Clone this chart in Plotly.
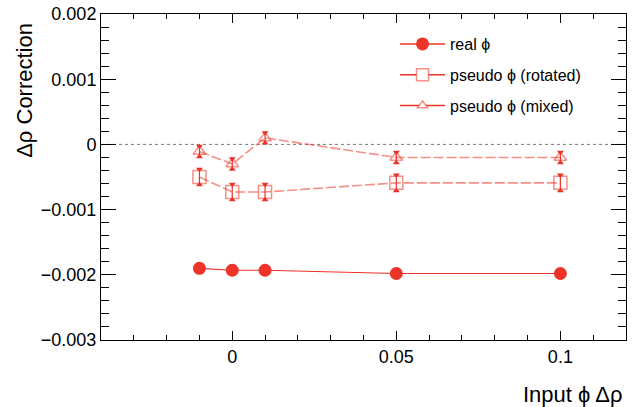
import plotly.graph_objects as go

# ---- data ----
x_input = [-0.01, 0.0, 0.01, 0.05, 0.1]
real_phi = [-0.00190, -0.00193, -0.00193, -0.00198, -0.00198]
rotated_phi = [-0.00050, -0.00073, -0.00073, -0.00059, -0.00059]
rotated_err = [0.00012, 0.00012, 0.00012, 0.00012, 0.00012]
mixed_phi = [-0.00011, -0.00030, 0.00010, -0.00020, -0.00020]
mixed_err = [0.00008, 0.00008, 0.00008, 0.00008, 0.00008]

series_names = ["real \u03d5", "pseudo \u03d5 (rotated)", "pseudo \u03d5 (mixed)"]
x_tickvals = [0, 0.05, 0.1]
x_ticktext = ["0", "0.05", "0.1"]
y_tickvals = [0.002, 0.001, 0, -0.001, -0.002, -0.003]
y_ticktext = ["0.002", "0.001", "0", "\u22120.001", "\u22120.002", "\u22120.003"]

RED = "rgb(236,52,40)"
RED_A = "rgba(236,52,40,0.55)"
CLEAR = "rgba(255,255,255,0)"
FONT = "Liberation Sans, Arial, Helvetica, sans-serif"

fig = go.Figure()

# real phi
fig.add_trace(go.Scatter(
    x=x_input, y=real_phi, mode="lines+markers", showlegend=False,
    line=dict(color=RED, width=1.2),
    marker=dict(symbol="circle", size=13, color=RED),
))

def add_pseudo(yvals, errs, symbol, size):
    fig.add_trace(go.Scatter(
        x=x_input, y=yvals, mode="lines+markers", showlegend=False,
        line=dict(color=RED_A, width=1.6, dash="10px,3px"),
        marker=dict(symbol=symbol, size=size, color=CLEAR,
                    line=dict(color=RED_A, width=1.5)),
        error_y=dict(type="data", array=errs, visible=True, color=RED,
                     thickness=1.2, width=2),
    ))
    # error bar end caps (small triangles)
    fig.add_trace(go.Scatter(
        x=x_input, y=[v + e for v, e in zip(yvals, errs)], mode="markers",
        showlegend=False, hoverinfo="skip",
        marker=dict(symbol="triangle-down", size=6, color=RED),
    ))
    fig.add_trace(go.Scatter(
        x=x_input, y=[v - e for v, e in zip(yvals, errs)], mode="markers",
        showlegend=False, hoverinfo="skip",
        marker=dict(symbol="triangle-up", size=6, color=RED),
    ))

add_pseudo(rotated_phi, rotated_err, "square", 13)
add_pseudo(mixed_phi, mixed_err, "triangle-up", 11)

# legend entries (solid lines as in reference)
fig.add_trace(go.Scatter(
    x=[None], y=[None], mode="lines+markers", name=series_names[0],
    legendgroup="a", line=dict(color=RED, width=1.5),
    marker=dict(symbol="circle", size=13, color=RED),
))
fig.add_trace(go.Scatter(
    x=[None], y=[None], mode="lines+markers", name=series_names[1],
    legendgroup="b", line=dict(color=RED, width=1.5),
    marker=dict(symbol="square", size=12, color="white",
                line=dict(color=RED_A, width=1.5)),
))
fig.add_trace(go.Scatter(
    x=[None], y=[None], mode="lines+markers", name=series_names[2],
    legendgroup="c", line=dict(color=RED, width=1.5),
    marker=dict(symbol="triangle-up", size=9, color="white",
                line=dict(color=RED_A, width=1.5)),
))

# dotted zero line
fig.add_shape(type="line", xref="paper", x0=0, x1=1, yref="y", y0=0, y1=0,
              line=dict(color="rgb(120,120,120)", width=1, dash="dot"), layer="below")

axis_common = dict(
    showline=True, linecolor="black", linewidth=1, mirror="allticks",
    ticks="inside", tickcolor="black", showgrid=False, zeroline=False,
    automargin=False,
    tickfont=dict(family=FONT, size=18, color="black"),
)

fig.update_xaxes(
    range=[-0.04, 0.12], tickvals=x_tickvals, ticktext=x_ticktext,
    ticklen=9, tickwidth=1,
    minor=dict(ticks="inside", dtick=0.01, tick0=0, ticklen=5, tickcolor="black", tickwidth=1),
    **axis_common,
)
fig.update_yaxes(
    range=[-0.003, 0.002], tickvals=y_tickvals, ticktext=y_ticktext,
    ticklen=15, tickwidth=1,
    minor=dict(ticks="inside", dtick=0.0002, tick0=0, ticklen=8, tickcolor="black", tickwidth=1),
    **axis_common,
)

fig.add_annotation(text="\u0394\u03c1 Correction", xref="paper", yref="paper",
                   x=-0.145, y=0.767, xanchor="center", yanchor="middle",
                   textangle=-90, showarrow=False,
                   font=dict(family=FONT, size=22, color="black"))
fig.add_annotation(text="Input \u03d5 \u0394\u03c1", xref="paper", yref="paper",
                   x=0.898, y=-0.166, xanchor="center", yanchor="middle",
                   showarrow=False,
                   font=dict(family=FONT, size=22, color="black"))

fig.update_layout(
    width=639, height=407,
    margin=dict(l=101, r=13, t=14, b=67),
    paper_bgcolor="white", plot_bgcolor="white",
    legend=dict(x=0.56, y=0.96, xanchor="left", yanchor="top",
                bgcolor="rgba(0,0,0,0)", tracegroupgap=7, itemwidth=45,
                font=dict(family=FONT, size=16, color="black")),
)

fig.write_html("out.html", config={"displayModeBar": False},
               post_script="document.body.style.margin='0';document.body.style.padding='0';")
